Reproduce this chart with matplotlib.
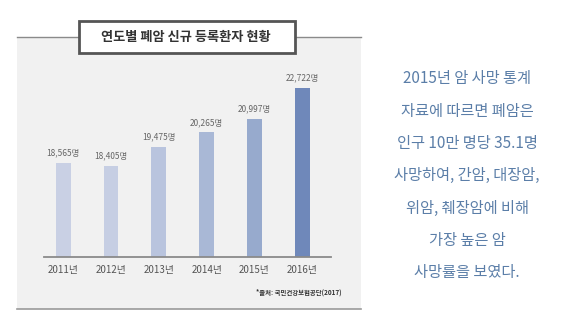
import matplotlib
matplotlib.use("Agg")
import matplotlib.pyplot as plt
from matplotlib.patches import Rectangle
from matplotlib.lines import Line2D

plt.rcParams['font.family'] = ['Noto Sans CJK KR', 'DejaVu Sans']

years = ["2011년", "2012년", "2013년", "2014년", "2015년", "2016년"]
patients = [18565, 18405, 19475, 20265, 20997, 22722]
value_labels = ["18,565명", "18,405명", "19,475명", "20,265명", "20,997명", "22,722명"]
bar_colors = ["#c9d0e4", "#c6cee3", "#b9c4de", "#a9b8d6", "#97aacd", "#6f88ba"]
title = "연도별 폐암 신규 등록환자 현황"
source = "*출처: 국민건강보험공단(2017)"
side_text = ["2015년 암 사망 통계", "자료에 따르면 폐암은", "인구 10만 명당 35.1명",
             "사망하여, 간암, 대장암,", "위암, 췌장암에 비해", "가장 높은 암", "사망률을 보였다."]

W, H = 567, 331
fig = plt.figure(figsize=(W / 100, H / 100), dpi=100)
fig.patch.set_facecolor("white")

def fx(px):
    return px / W

def fy(py):
    return 1 - py / H

# gray panel
fig.add_artist(Rectangle((fx(17), fy(309)), fx(361) - fx(17), fy(37) - fy(309),
                         transform=fig.transFigure, facecolor="#f1f1f1", edgecolor="none", zorder=0))
fig.add_artist(Line2D([fx(17), fx(361)], [fy(37), fy(37)], transform=fig.transFigure,
                      color="#8a8a8a", lw=1.0, zorder=1))
fig.add_artist(Line2D([fx(17), fx(361)], [fy(309), fy(309)], transform=fig.transFigure,
                      color="#9a9a9a", lw=1.2, zorder=1))

# title box
fig.add_artist(Rectangle((fx(79), fy(53)), fx(295) - fx(79), fy(21) - fy(53),
                         transform=fig.transFigure, facecolor="white", edgecolor="#555555",
                         lw=2.0, zorder=2))
fig.text(fx(186), fy(37.5), title, ha="center", va="center", fontsize=9.5,
         fontweight="bold", color="#333333", zorder=3)

# bar axes
ax = fig.add_axes([fx(44), fy(257), fx(331) - fx(44), fy(80) - fy(257)])
ax.set_facecolor("none")
x = list(range(len(years)))
bars = ax.bar(x, patients, width=0.31, color=bar_colors, zorder=2)
ax.set_xlim(-0.4, 5.6)
ax.set_ylim(13400, 23150)
for xi, v, lab in zip(x, patients, value_labels):
    ax.annotate(lab, (xi, v), xytext=(0, 4), textcoords="offset points", ha="center",
                va="bottom", fontsize=6, color="#666666")
ax.set_xticks(x)
ax.set_xticklabels(years, fontsize=7, color="#555555")
ax.tick_params(axis="x", length=0, pad=6)
ax.set_yticks([])
for s in ["top", "right", "left"]:
    ax.spines[s].set_visible(False)
ax.spines["bottom"].set_color("#8a8a8a")
ax.spines["bottom"].set_linewidth(1.3)

fig.text(fx(342), fy(292), source, ha="right", va="center", fontsize=4.6,
         fontweight="bold", color="#333333")

# side text
for i, line in enumerate(side_text):
    fig.text(fx(467), fy(79 + i * 32.3), line, ha="center", va="center",
             fontsize=11, color="#5b7ea8")

fig.savefig("out.png", dpi=100)
